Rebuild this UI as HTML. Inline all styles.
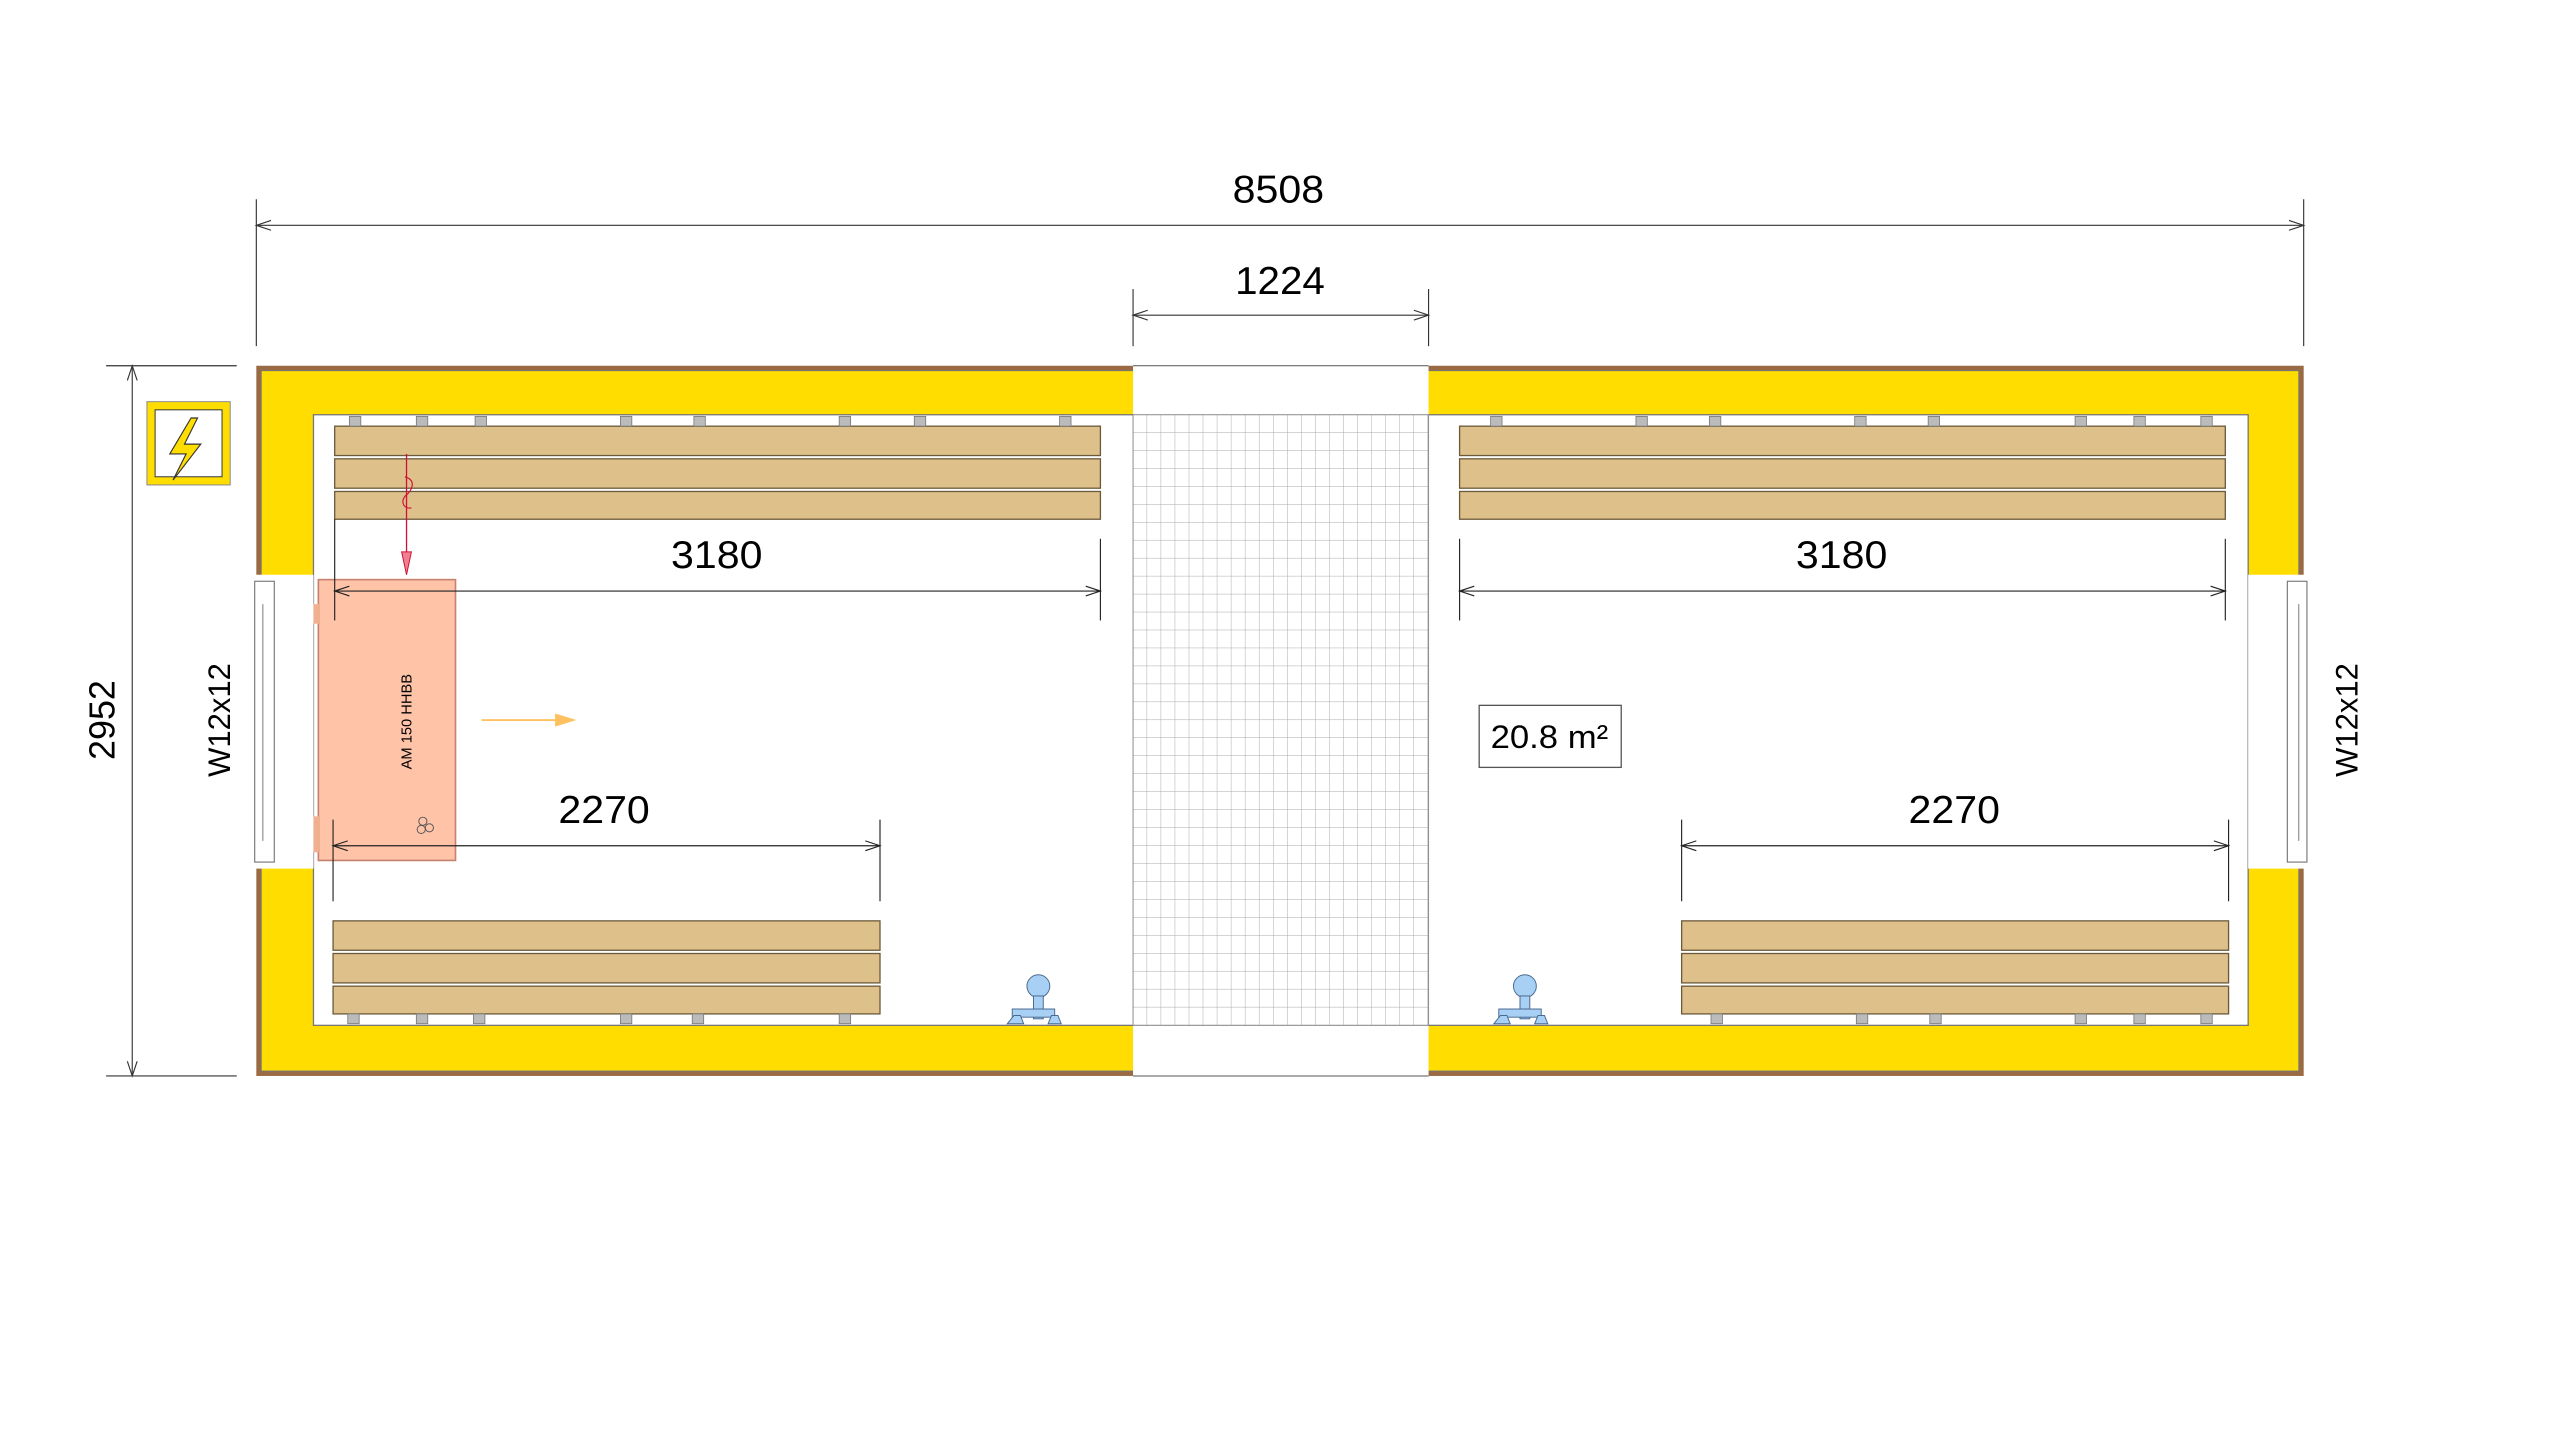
<!DOCTYPE html>
<html><head><meta charset="utf-8"><style>html,body{margin:0;padding:0;background:#fff}svg{display:block}text{font-family:"Liberation Sans",sans-serif}</style></head><body>
<svg width="2560" height="1436" viewBox="0 0 1568 879.5" xmlns="http://www.w3.org/2000/svg">
<defs>
<pattern id="grid" x="694" y="254" width="8.6" height="11" patternUnits="userSpaceOnUse"><path d="M8.6 0V11M0 11H8.6" stroke="#aaa" stroke-width="0.6" fill="none"/></pattern>
</defs>
<g stroke="#333" stroke-width="0.7" fill="none">
<line x1="157" y1="122" x2="157" y2="212"/><line x1="1411" y1="122" x2="1411" y2="212"/>
<line x1="157" y1="138" x2="1411" y2="138"/>
<path d="M166 135L157 138L166 141M1402 135L1411 138L1402 141"/>
<line x1="694" y1="177" x2="694" y2="212"/><line x1="875" y1="177" x2="875" y2="212"/>
<line x1="694" y1="193" x2="875" y2="193"/>
<path d="M703 190L694 193L703 196M866 190L875 193L866 196"/>
<line x1="65" y1="224" x2="145" y2="224"/><line x1="65" y1="659" x2="145" y2="659"/>
<line x1="81" y1="224" x2="81" y2="659"/>
<path d="M78 233L81 224L84 233M78 650L81 659L84 650"/>
</g>
<text x="783" y="124" font-size="24" text-anchor="middle" textLength="56" lengthAdjust="spacingAndGlyphs">8508</text>
<text x="784" y="180" font-size="24" text-anchor="middle" textLength="55" lengthAdjust="spacingAndGlyphs">1224</text>
<text transform="translate(70,441) rotate(-90)" font-size="22" text-anchor="middle">2952</text>
<text transform="translate(141,441) rotate(-90)" font-size="19" text-anchor="middle">W12x12</text>
<text transform="translate(1444,441) rotate(-90)" font-size="19" text-anchor="middle">W12x12</text>
<rect x="157" y="224" width="1254" height="435" fill="#9a6a44"/>
<rect x="160" y="227" width="1248" height="429" fill="#FFDD00" stroke="#777" stroke-width="0.6"/>
<rect x="192" y="254" width="1185" height="374" fill="#fff" stroke="#777" stroke-width="0.8"/>
<rect x="694" y="224" width="181" height="435" fill="#fff"/>
<rect x="694" y="254" width="181" height="374" fill="url(#grid)" stroke="#888" stroke-width="0.6"/>
<line x1="694" y1="224" x2="875" y2="224" stroke="#555" stroke-width="0.6"/>
<line x1="694" y1="659" x2="875" y2="659" stroke="#555" stroke-width="0.6"/>
<rect x="156" y="352" width="36" height="180" fill="#fff"/>
<rect x="156" y="356" width="12" height="172" fill="#fff" stroke="#777" stroke-width="0.7"/>
<line x1="161" y1="370" x2="161" y2="515" stroke="#777" stroke-width="0.6"/>
<rect x="1377" y="352" width="36" height="180" fill="#fff"/>
<rect x="1401" y="356" width="12" height="172" fill="#fff" stroke="#777" stroke-width="0.7"/>
<line x1="1408" y1="370" x2="1408" y2="515" stroke="#777" stroke-width="0.6"/>
<g fill="#DEC08A" stroke="#6b5a3a" stroke-width="0.8">
<rect x="205" y="261" width="469" height="18"/><rect x="205" y="281" width="469" height="18"/><rect x="205" y="301" width="469" height="17"/>
<rect x="894" y="261" width="469" height="18"/><rect x="894" y="281" width="469" height="18"/><rect x="894" y="301" width="469" height="17"/>
<rect x="204" y="564" width="335" height="18"/><rect x="204" y="584" width="335" height="18"/><rect x="204" y="604" width="335" height="17"/>
<rect x="1030" y="564" width="335" height="18"/><rect x="1030" y="584" width="335" height="18"/><rect x="1030" y="604" width="335" height="17"/>
</g>
<g fill="#bbb" stroke="#777" stroke-width="0.5">
<rect x="214" y="255" width="7" height="6"/><rect x="255" y="255" width="7" height="6"/><rect x="291" y="255" width="7" height="6"/><rect x="380" y="255" width="7" height="6"/><rect x="425" y="255" width="7" height="6"/><rect x="514" y="255" width="7" height="6"/><rect x="560" y="255" width="7" height="6"/><rect x="649" y="255" width="7" height="6"/>
<rect x="913" y="255" width="7" height="6"/><rect x="1002" y="255" width="7" height="6"/><rect x="1047" y="255" width="7" height="6"/><rect x="1136" y="255" width="7" height="6"/><rect x="1181" y="255" width="7" height="6"/><rect x="1271" y="255" width="7" height="6"/><rect x="1307" y="255" width="7" height="6"/><rect x="1348" y="255" width="7" height="6"/>
<rect x="213" y="621" width="7" height="6"/><rect x="255" y="621" width="7" height="6"/><rect x="290" y="621" width="7" height="6"/><rect x="380" y="621" width="7" height="6"/><rect x="424" y="621" width="7" height="6"/><rect x="514" y="621" width="7" height="6"/>
<rect x="1048" y="621" width="7" height="6"/><rect x="1137" y="621" width="7" height="6"/><rect x="1182" y="621" width="7" height="6"/><rect x="1271" y="621" width="7" height="6"/><rect x="1307" y="621" width="7" height="6"/><rect x="1348" y="621" width="7" height="6"/>
</g>
<rect x="195" y="355" width="84" height="172" fill="#FFC4A8" stroke="#c88070" stroke-width="1"/>
<rect x="192" y="370" width="4" height="12" fill="#f0b090"/><rect x="192" y="500" width="4" height="22" fill="#f0b090"/>
<text transform="translate(252,442) rotate(-90)" font-size="9" text-anchor="middle">AM 150 HHBB</text>
<g fill="none" stroke="#555" stroke-width="0.6"><circle cx="259" cy="503" r="2.5"/><circle cx="263" cy="507" r="2.5"/><circle cx="258" cy="508" r="2.5"/></g>
<line x1="249" y1="278" x2="249" y2="350" stroke="#d0103a" stroke-width="0.8"/>
<path d="M246 338L249 352L252 338Z" fill="#f08090" stroke="#d0103a" stroke-width="0.6"/>
<path d="M248 292C255 294 253 300 248 304C245 308 248 312 252 311" fill="none" stroke="#d0103a" stroke-width="0.7"/>
<line x1="295" y1="441" x2="345" y2="441" stroke="#ffb84a" stroke-width="1"/>
<path d="M340 437L353 441L340 445Z" fill="#ffc060"/>
<g stroke="#222" stroke-width="0.7" fill="none">
<line x1="205" y1="318" x2="205" y2="380"/><line x1="674" y1="330" x2="674" y2="380"/><line x1="205" y1="362" x2="674" y2="362"/>
<path d="M214 359L205 362L214 365M665 359L674 362L665 365"/>
<line x1="894" y1="330" x2="894" y2="380"/><line x1="1363" y1="330" x2="1363" y2="380"/><line x1="894" y1="362" x2="1363" y2="362"/>
<path d="M903 359L894 362L903 365M1354 359L1363 362L1354 365"/>
<line x1="204" y1="502" x2="204" y2="552"/><line x1="539" y1="502" x2="539" y2="552"/><line x1="204" y1="518" x2="539" y2="518"/>
<path d="M213 515L204 518L213 521M530 515L539 518L530 521"/>
<line x1="1030" y1="502" x2="1030" y2="552"/><line x1="1365" y1="502" x2="1365" y2="552"/><line x1="1030" y1="518" x2="1365" y2="518"/>
<path d="M1039 515L1030 518L1039 521M1356 515L1365 518L1356 521"/>
</g>
<text x="439" y="348" font-size="24" text-anchor="middle" textLength="56" lengthAdjust="spacingAndGlyphs">3180</text>
<text x="1128" y="348" font-size="24" text-anchor="middle" textLength="56" lengthAdjust="spacingAndGlyphs">3180</text>
<text x="370" y="504" font-size="24" text-anchor="middle" textLength="56" lengthAdjust="spacingAndGlyphs">2270</text>
<text x="1197" y="504" font-size="24" text-anchor="middle" textLength="56" lengthAdjust="spacingAndGlyphs">2270</text>
<rect x="906" y="432" width="87" height="38" fill="#fff" stroke="#555" stroke-width="0.8"/>
<text x="949" y="458" font-size="20" text-anchor="middle" textLength="72" lengthAdjust="spacingAndGlyphs">20.8 m²</text>
<rect x="90" y="246" width="51" height="51" fill="#FFDD00" stroke="#888" stroke-width="0.6"/>
<rect x="95" y="251" width="41" height="41" fill="#fff" stroke="#333" stroke-width="0.6"/>
<path d="M117 256L104 278H114L106 294L123 272H113L121 256Z" fill="#FFDD00" stroke="#333" stroke-width="0.7"/>
<g fill="#a8d0f4" stroke="#4a6a90" stroke-width="0.6">
<ellipse cx="636" cy="604" rx="7" ry="7"/><rect x="633" y="610" width="6" height="14"/><rect x="620" y="618" width="26" height="5"/><path d="M617 627L621 622H625L627 627ZM642 627L644 622H648L650 627Z"/>
<ellipse cx="934" cy="604" rx="7" ry="7"/><rect x="931" y="610" width="6" height="14"/><rect x="918" y="618" width="26" height="5"/><path d="M915 627L919 622H923L925 627ZM940 627L942 622H946L948 627Z"/>
</g>
</svg>
</body></html>
